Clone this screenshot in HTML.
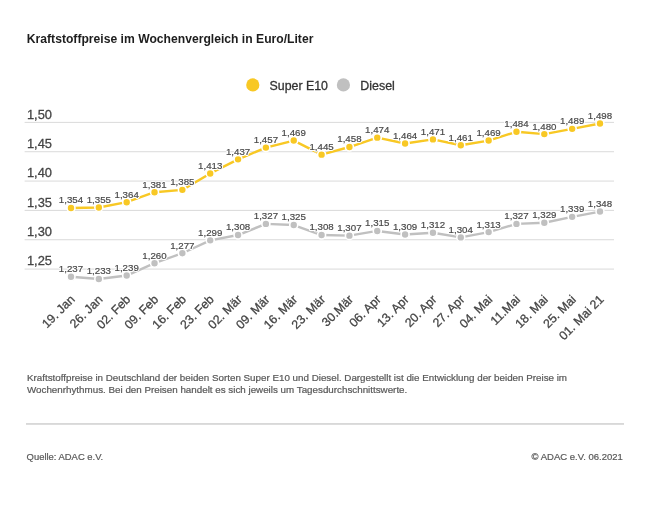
<!DOCTYPE html><html><head><meta charset="utf-8"><style>html,body{margin:0;padding:0;background:#fff;width:650px;height:517px;overflow:hidden}svg{display:block}text{font-family:"Liberation Sans", Arial, sans-serif}.t{fill:#444;stroke:#444;stroke-width:0.28px}.h{fill:#fff;stroke:#fff;stroke-width:2.2px;stroke-linejoin:round}.d{fill:#4a4a4a;stroke:#4a4a4a;stroke-width:0.2px}.c{fill:#5a5a5a;stroke:#5a5a5a;stroke-width:0.22px}</style></head><body>
<svg width="650" height="517" viewBox="0 0 650 517">
<rect width="650" height="517" fill="#fff"/>
<text x="26.8" y="43.1" font-size="12.10" font-weight="bold" fill="#1e1e1e" textLength="286.6" lengthAdjust="spacingAndGlyphs">Kraftstoffpreise im Wochenvergleich in Euro/Liter</text>
<circle cx="252.8" cy="84.9" r="6.6" fill="#f8c824"/>
<text class="t" x="269.6" y="89.5" font-size="12.0" style="fill:#333;stroke:#333" textLength="58.4" lengthAdjust="spacingAndGlyphs">Super E10</text>
<circle cx="343.4" cy="84.9" r="6.6" fill="#c0c0c0"/>
<text class="t" x="360.3" y="89.5" font-size="12.0" style="fill:#333;stroke:#333" textLength="34.6" lengthAdjust="spacingAndGlyphs">Diesel</text>
<rect x="24.6" y="121.88" width="589.4" height="1" fill="#dadada"/>
<text class="t" x="26.9" y="118.78" font-size="12.90">1,50</text>
<rect x="24.6" y="151.22" width="589.4" height="1" fill="#dadada"/>
<text class="t" x="26.9" y="148.12" font-size="12.90">1,45</text>
<rect x="24.6" y="180.56" width="589.4" height="1" fill="#dadada"/>
<text class="t" x="26.9" y="177.46" font-size="12.90">1,40</text>
<rect x="24.6" y="209.90" width="589.4" height="1" fill="#dadada"/>
<text class="t" x="26.9" y="206.80" font-size="12.90">1,35</text>
<rect x="24.6" y="239.24" width="589.4" height="1" fill="#dadada"/>
<text class="t" x="26.9" y="236.14" font-size="12.90">1,30</text>
<rect x="24.6" y="268.58" width="589.4" height="1" fill="#dadada"/>
<text class="t" x="26.9" y="265.48" font-size="12.90">1,25</text>
<polyline points="71.00,276.71 98.84,279.06 126.68,275.53 154.53,263.21 182.37,253.24 210.21,240.33 238.05,235.05 265.89,223.90 293.74,225.07 321.58,235.05 349.42,235.63 377.26,230.94 405.10,234.46 432.95,232.70 460.79,237.39 488.63,232.11 516.47,223.90 544.31,222.72 572.16,216.85 600.00,211.57" fill="none" stroke="#c0c0c0" stroke-width="2.40" stroke-linejoin="round" stroke-linecap="round"/>
<circle cx="71.00" cy="276.71" r="4.00" fill="#c0c0c0" stroke="#fff" stroke-width="1.60"/>
<circle cx="98.84" cy="279.06" r="4.00" fill="#c0c0c0" stroke="#fff" stroke-width="1.60"/>
<circle cx="126.68" cy="275.53" r="4.00" fill="#c0c0c0" stroke="#fff" stroke-width="1.60"/>
<circle cx="154.53" cy="263.21" r="4.00" fill="#c0c0c0" stroke="#fff" stroke-width="1.60"/>
<circle cx="182.37" cy="253.24" r="4.00" fill="#c0c0c0" stroke="#fff" stroke-width="1.60"/>
<circle cx="210.21" cy="240.33" r="4.00" fill="#c0c0c0" stroke="#fff" stroke-width="1.60"/>
<circle cx="238.05" cy="235.05" r="4.00" fill="#c0c0c0" stroke="#fff" stroke-width="1.60"/>
<circle cx="265.89" cy="223.90" r="4.00" fill="#c0c0c0" stroke="#fff" stroke-width="1.60"/>
<circle cx="293.74" cy="225.07" r="4.00" fill="#c0c0c0" stroke="#fff" stroke-width="1.60"/>
<circle cx="321.58" cy="235.05" r="4.00" fill="#c0c0c0" stroke="#fff" stroke-width="1.60"/>
<circle cx="349.42" cy="235.63" r="4.00" fill="#c0c0c0" stroke="#fff" stroke-width="1.60"/>
<circle cx="377.26" cy="230.94" r="4.00" fill="#c0c0c0" stroke="#fff" stroke-width="1.60"/>
<circle cx="405.10" cy="234.46" r="4.00" fill="#c0c0c0" stroke="#fff" stroke-width="1.60"/>
<circle cx="432.95" cy="232.70" r="4.00" fill="#c0c0c0" stroke="#fff" stroke-width="1.60"/>
<circle cx="460.79" cy="237.39" r="4.00" fill="#c0c0c0" stroke="#fff" stroke-width="1.60"/>
<circle cx="488.63" cy="232.11" r="4.00" fill="#c0c0c0" stroke="#fff" stroke-width="1.60"/>
<circle cx="516.47" cy="223.90" r="4.00" fill="#c0c0c0" stroke="#fff" stroke-width="1.60"/>
<circle cx="544.31" cy="222.72" r="4.00" fill="#c0c0c0" stroke="#fff" stroke-width="1.60"/>
<circle cx="572.16" cy="216.85" r="4.00" fill="#c0c0c0" stroke="#fff" stroke-width="1.60"/>
<circle cx="600.00" cy="211.57" r="4.00" fill="#c0c0c0" stroke="#fff" stroke-width="1.60"/>
<polyline points="71.00,208.05 98.84,207.47 126.68,202.18 154.53,192.21 182.37,189.86 210.21,173.43 238.05,159.35 265.89,147.61 293.74,140.57 321.58,154.65 349.42,147.03 377.26,137.64 405.10,143.50 432.95,139.40 460.79,145.27 488.63,140.57 516.47,131.77 544.31,134.12 572.16,128.83 600.00,123.55" fill="none" stroke="#f8c824" stroke-width="2.40" stroke-linejoin="round" stroke-linecap="round"/>
<circle cx="71.00" cy="208.05" r="4.00" fill="#f8c824" stroke="#fff" stroke-width="1.60"/>
<circle cx="98.84" cy="207.47" r="4.00" fill="#f8c824" stroke="#fff" stroke-width="1.60"/>
<circle cx="126.68" cy="202.18" r="4.00" fill="#f8c824" stroke="#fff" stroke-width="1.60"/>
<circle cx="154.53" cy="192.21" r="4.00" fill="#f8c824" stroke="#fff" stroke-width="1.60"/>
<circle cx="182.37" cy="189.86" r="4.00" fill="#f8c824" stroke="#fff" stroke-width="1.60"/>
<circle cx="210.21" cy="173.43" r="4.00" fill="#f8c824" stroke="#fff" stroke-width="1.60"/>
<circle cx="238.05" cy="159.35" r="4.00" fill="#f8c824" stroke="#fff" stroke-width="1.60"/>
<circle cx="265.89" cy="147.61" r="4.00" fill="#f8c824" stroke="#fff" stroke-width="1.60"/>
<circle cx="293.74" cy="140.57" r="4.00" fill="#f8c824" stroke="#fff" stroke-width="1.60"/>
<circle cx="321.58" cy="154.65" r="4.00" fill="#f8c824" stroke="#fff" stroke-width="1.60"/>
<circle cx="349.42" cy="147.03" r="4.00" fill="#f8c824" stroke="#fff" stroke-width="1.60"/>
<circle cx="377.26" cy="137.64" r="4.00" fill="#f8c824" stroke="#fff" stroke-width="1.60"/>
<circle cx="405.10" cy="143.50" r="4.00" fill="#f8c824" stroke="#fff" stroke-width="1.60"/>
<circle cx="432.95" cy="139.40" r="4.00" fill="#f8c824" stroke="#fff" stroke-width="1.60"/>
<circle cx="460.79" cy="145.27" r="4.00" fill="#f8c824" stroke="#fff" stroke-width="1.60"/>
<circle cx="488.63" cy="140.57" r="4.00" fill="#f8c824" stroke="#fff" stroke-width="1.60"/>
<circle cx="516.47" cy="131.77" r="4.00" fill="#f8c824" stroke="#fff" stroke-width="1.60"/>
<circle cx="544.31" cy="134.12" r="4.00" fill="#f8c824" stroke="#fff" stroke-width="1.60"/>
<circle cx="572.16" cy="128.83" r="4.00" fill="#f8c824" stroke="#fff" stroke-width="1.60"/>
<circle cx="600.00" cy="123.55" r="4.00" fill="#f8c824" stroke="#fff" stroke-width="1.60"/>
<text class="h" x="71.00" y="272.11" font-size="9.70" text-anchor="middle" textLength="24.3" lengthAdjust="spacingAndGlyphs">1,237</text>
<text class="h" x="98.84" y="274.46" font-size="9.70" text-anchor="middle" textLength="24.3" lengthAdjust="spacingAndGlyphs">1,233</text>
<text class="h" x="126.68" y="270.93" font-size="9.70" text-anchor="middle" textLength="24.3" lengthAdjust="spacingAndGlyphs">1,239</text>
<text class="h" x="154.53" y="258.61" font-size="9.70" text-anchor="middle" textLength="24.3" lengthAdjust="spacingAndGlyphs">1,260</text>
<text class="h" x="182.37" y="248.64" font-size="9.70" text-anchor="middle" textLength="24.3" lengthAdjust="spacingAndGlyphs">1,277</text>
<text class="h" x="210.21" y="235.73" font-size="9.70" text-anchor="middle" textLength="24.3" lengthAdjust="spacingAndGlyphs">1,299</text>
<text class="h" x="238.05" y="230.45" font-size="9.70" text-anchor="middle" textLength="24.3" lengthAdjust="spacingAndGlyphs">1,308</text>
<text class="h" x="265.89" y="219.30" font-size="9.70" text-anchor="middle" textLength="24.3" lengthAdjust="spacingAndGlyphs">1,327</text>
<text class="h" x="293.74" y="220.47" font-size="9.70" text-anchor="middle" textLength="24.3" lengthAdjust="spacingAndGlyphs">1,325</text>
<text class="h" x="321.58" y="230.45" font-size="9.70" text-anchor="middle" textLength="24.3" lengthAdjust="spacingAndGlyphs">1,308</text>
<text class="h" x="349.42" y="231.03" font-size="9.70" text-anchor="middle" textLength="24.3" lengthAdjust="spacingAndGlyphs">1,307</text>
<text class="h" x="377.26" y="226.34" font-size="9.70" text-anchor="middle" textLength="24.3" lengthAdjust="spacingAndGlyphs">1,315</text>
<text class="h" x="405.10" y="229.86" font-size="9.70" text-anchor="middle" textLength="24.3" lengthAdjust="spacingAndGlyphs">1,309</text>
<text class="h" x="432.95" y="228.10" font-size="9.70" text-anchor="middle" textLength="24.3" lengthAdjust="spacingAndGlyphs">1,312</text>
<text class="h" x="460.79" y="232.79" font-size="9.70" text-anchor="middle" textLength="24.3" lengthAdjust="spacingAndGlyphs">1,304</text>
<text class="h" x="488.63" y="227.51" font-size="9.70" text-anchor="middle" textLength="24.3" lengthAdjust="spacingAndGlyphs">1,313</text>
<text class="h" x="516.47" y="219.30" font-size="9.70" text-anchor="middle" textLength="24.3" lengthAdjust="spacingAndGlyphs">1,327</text>
<text class="h" x="544.31" y="218.12" font-size="9.70" text-anchor="middle" textLength="24.3" lengthAdjust="spacingAndGlyphs">1,329</text>
<text class="h" x="572.16" y="212.25" font-size="9.70" text-anchor="middle" textLength="24.3" lengthAdjust="spacingAndGlyphs">1,339</text>
<text class="h" x="600.00" y="206.97" font-size="9.70" text-anchor="middle" textLength="24.3" lengthAdjust="spacingAndGlyphs">1,348</text>
<text class="d" x="71.00" y="272.11" font-size="9.70" text-anchor="middle" textLength="24.3" lengthAdjust="spacingAndGlyphs">1,237</text>
<text class="d" x="98.84" y="274.46" font-size="9.70" text-anchor="middle" textLength="24.3" lengthAdjust="spacingAndGlyphs">1,233</text>
<text class="d" x="126.68" y="270.93" font-size="9.70" text-anchor="middle" textLength="24.3" lengthAdjust="spacingAndGlyphs">1,239</text>
<text class="d" x="154.53" y="258.61" font-size="9.70" text-anchor="middle" textLength="24.3" lengthAdjust="spacingAndGlyphs">1,260</text>
<text class="d" x="182.37" y="248.64" font-size="9.70" text-anchor="middle" textLength="24.3" lengthAdjust="spacingAndGlyphs">1,277</text>
<text class="d" x="210.21" y="235.73" font-size="9.70" text-anchor="middle" textLength="24.3" lengthAdjust="spacingAndGlyphs">1,299</text>
<text class="d" x="238.05" y="230.45" font-size="9.70" text-anchor="middle" textLength="24.3" lengthAdjust="spacingAndGlyphs">1,308</text>
<text class="d" x="265.89" y="219.30" font-size="9.70" text-anchor="middle" textLength="24.3" lengthAdjust="spacingAndGlyphs">1,327</text>
<text class="d" x="293.74" y="220.47" font-size="9.70" text-anchor="middle" textLength="24.3" lengthAdjust="spacingAndGlyphs">1,325</text>
<text class="d" x="321.58" y="230.45" font-size="9.70" text-anchor="middle" textLength="24.3" lengthAdjust="spacingAndGlyphs">1,308</text>
<text class="d" x="349.42" y="231.03" font-size="9.70" text-anchor="middle" textLength="24.3" lengthAdjust="spacingAndGlyphs">1,307</text>
<text class="d" x="377.26" y="226.34" font-size="9.70" text-anchor="middle" textLength="24.3" lengthAdjust="spacingAndGlyphs">1,315</text>
<text class="d" x="405.10" y="229.86" font-size="9.70" text-anchor="middle" textLength="24.3" lengthAdjust="spacingAndGlyphs">1,309</text>
<text class="d" x="432.95" y="228.10" font-size="9.70" text-anchor="middle" textLength="24.3" lengthAdjust="spacingAndGlyphs">1,312</text>
<text class="d" x="460.79" y="232.79" font-size="9.70" text-anchor="middle" textLength="24.3" lengthAdjust="spacingAndGlyphs">1,304</text>
<text class="d" x="488.63" y="227.51" font-size="9.70" text-anchor="middle" textLength="24.3" lengthAdjust="spacingAndGlyphs">1,313</text>
<text class="d" x="516.47" y="219.30" font-size="9.70" text-anchor="middle" textLength="24.3" lengthAdjust="spacingAndGlyphs">1,327</text>
<text class="d" x="544.31" y="218.12" font-size="9.70" text-anchor="middle" textLength="24.3" lengthAdjust="spacingAndGlyphs">1,329</text>
<text class="d" x="572.16" y="212.25" font-size="9.70" text-anchor="middle" textLength="24.3" lengthAdjust="spacingAndGlyphs">1,339</text>
<text class="d" x="600.00" y="206.97" font-size="9.70" text-anchor="middle" textLength="24.3" lengthAdjust="spacingAndGlyphs">1,348</text>
<text class="h" x="71.00" y="203.45" font-size="9.70" text-anchor="middle" textLength="24.3" lengthAdjust="spacingAndGlyphs">1,354</text>
<text class="h" x="98.84" y="202.87" font-size="9.70" text-anchor="middle" textLength="24.3" lengthAdjust="spacingAndGlyphs">1,355</text>
<text class="h" x="126.68" y="197.58" font-size="9.70" text-anchor="middle" textLength="24.3" lengthAdjust="spacingAndGlyphs">1,364</text>
<text class="h" x="154.53" y="187.61" font-size="9.70" text-anchor="middle" textLength="24.3" lengthAdjust="spacingAndGlyphs">1,381</text>
<text class="h" x="182.37" y="185.26" font-size="9.70" text-anchor="middle" textLength="24.3" lengthAdjust="spacingAndGlyphs">1,385</text>
<text class="h" x="210.21" y="168.83" font-size="9.70" text-anchor="middle" textLength="24.3" lengthAdjust="spacingAndGlyphs">1,413</text>
<text class="h" x="238.05" y="154.75" font-size="9.70" text-anchor="middle" textLength="24.3" lengthAdjust="spacingAndGlyphs">1,437</text>
<text class="h" x="265.89" y="143.01" font-size="9.70" text-anchor="middle" textLength="24.3" lengthAdjust="spacingAndGlyphs">1,457</text>
<text class="h" x="293.74" y="135.97" font-size="9.70" text-anchor="middle" textLength="24.3" lengthAdjust="spacingAndGlyphs">1,469</text>
<text class="h" x="321.58" y="150.05" font-size="9.70" text-anchor="middle" textLength="24.3" lengthAdjust="spacingAndGlyphs">1,445</text>
<text class="h" x="349.42" y="142.43" font-size="9.70" text-anchor="middle" textLength="24.3" lengthAdjust="spacingAndGlyphs">1,458</text>
<text class="h" x="377.26" y="133.04" font-size="9.70" text-anchor="middle" textLength="24.3" lengthAdjust="spacingAndGlyphs">1,474</text>
<text class="h" x="405.10" y="138.90" font-size="9.70" text-anchor="middle" textLength="24.3" lengthAdjust="spacingAndGlyphs">1,464</text>
<text class="h" x="432.95" y="134.80" font-size="9.70" text-anchor="middle" textLength="24.3" lengthAdjust="spacingAndGlyphs">1,471</text>
<text class="h" x="460.79" y="140.67" font-size="9.70" text-anchor="middle" textLength="24.3" lengthAdjust="spacingAndGlyphs">1,461</text>
<text class="h" x="488.63" y="135.97" font-size="9.70" text-anchor="middle" textLength="24.3" lengthAdjust="spacingAndGlyphs">1,469</text>
<text class="h" x="516.47" y="127.17" font-size="9.70" text-anchor="middle" textLength="24.3" lengthAdjust="spacingAndGlyphs">1,484</text>
<text class="h" x="544.31" y="129.52" font-size="9.70" text-anchor="middle" textLength="24.3" lengthAdjust="spacingAndGlyphs">1,480</text>
<text class="h" x="572.16" y="124.23" font-size="9.70" text-anchor="middle" textLength="24.3" lengthAdjust="spacingAndGlyphs">1,489</text>
<text class="h" x="600.00" y="118.95" font-size="9.70" text-anchor="middle" textLength="24.3" lengthAdjust="spacingAndGlyphs">1,498</text>
<text class="d" x="71.00" y="203.45" font-size="9.70" text-anchor="middle" textLength="24.3" lengthAdjust="spacingAndGlyphs">1,354</text>
<text class="d" x="98.84" y="202.87" font-size="9.70" text-anchor="middle" textLength="24.3" lengthAdjust="spacingAndGlyphs">1,355</text>
<text class="d" x="126.68" y="197.58" font-size="9.70" text-anchor="middle" textLength="24.3" lengthAdjust="spacingAndGlyphs">1,364</text>
<text class="d" x="154.53" y="187.61" font-size="9.70" text-anchor="middle" textLength="24.3" lengthAdjust="spacingAndGlyphs">1,381</text>
<text class="d" x="182.37" y="185.26" font-size="9.70" text-anchor="middle" textLength="24.3" lengthAdjust="spacingAndGlyphs">1,385</text>
<text class="d" x="210.21" y="168.83" font-size="9.70" text-anchor="middle" textLength="24.3" lengthAdjust="spacingAndGlyphs">1,413</text>
<text class="d" x="238.05" y="154.75" font-size="9.70" text-anchor="middle" textLength="24.3" lengthAdjust="spacingAndGlyphs">1,437</text>
<text class="d" x="265.89" y="143.01" font-size="9.70" text-anchor="middle" textLength="24.3" lengthAdjust="spacingAndGlyphs">1,457</text>
<text class="d" x="293.74" y="135.97" font-size="9.70" text-anchor="middle" textLength="24.3" lengthAdjust="spacingAndGlyphs">1,469</text>
<text class="d" x="321.58" y="150.05" font-size="9.70" text-anchor="middle" textLength="24.3" lengthAdjust="spacingAndGlyphs">1,445</text>
<text class="d" x="349.42" y="142.43" font-size="9.70" text-anchor="middle" textLength="24.3" lengthAdjust="spacingAndGlyphs">1,458</text>
<text class="d" x="377.26" y="133.04" font-size="9.70" text-anchor="middle" textLength="24.3" lengthAdjust="spacingAndGlyphs">1,474</text>
<text class="d" x="405.10" y="138.90" font-size="9.70" text-anchor="middle" textLength="24.3" lengthAdjust="spacingAndGlyphs">1,464</text>
<text class="d" x="432.95" y="134.80" font-size="9.70" text-anchor="middle" textLength="24.3" lengthAdjust="spacingAndGlyphs">1,471</text>
<text class="d" x="460.79" y="140.67" font-size="9.70" text-anchor="middle" textLength="24.3" lengthAdjust="spacingAndGlyphs">1,461</text>
<text class="d" x="488.63" y="135.97" font-size="9.70" text-anchor="middle" textLength="24.3" lengthAdjust="spacingAndGlyphs">1,469</text>
<text class="d" x="516.47" y="127.17" font-size="9.70" text-anchor="middle" textLength="24.3" lengthAdjust="spacingAndGlyphs">1,484</text>
<text class="d" x="544.31" y="129.52" font-size="9.70" text-anchor="middle" textLength="24.3" lengthAdjust="spacingAndGlyphs">1,480</text>
<text class="d" x="572.16" y="124.23" font-size="9.70" text-anchor="middle" textLength="24.3" lengthAdjust="spacingAndGlyphs">1,489</text>
<text class="d" x="600.00" y="118.95" font-size="9.70" text-anchor="middle" textLength="24.3" lengthAdjust="spacingAndGlyphs">1,498</text>
<text class="t" x="75.50" y="300.20" font-size="12.3" text-anchor="end" transform="rotate(-45 75.50 300.20)">19. Jan</text>
<text class="t" x="103.34" y="300.20" font-size="12.3" text-anchor="end" transform="rotate(-45 103.34 300.20)">26. Jan</text>
<text class="t" x="131.18" y="300.20" font-size="12.3" text-anchor="end" transform="rotate(-45 131.18 300.20)">02. Feb</text>
<text class="t" x="159.03" y="300.20" font-size="12.3" text-anchor="end" transform="rotate(-45 159.03 300.20)">09. Feb</text>
<text class="t" x="186.87" y="300.20" font-size="12.3" text-anchor="end" transform="rotate(-45 186.87 300.20)">16. Feb</text>
<text class="t" x="214.71" y="300.20" font-size="12.3" text-anchor="end" transform="rotate(-45 214.71 300.20)">23. Feb</text>
<text class="t" x="242.55" y="300.20" font-size="12.3" text-anchor="end" transform="rotate(-45 242.55 300.20)">02. Mär</text>
<text class="t" x="270.39" y="300.20" font-size="12.3" text-anchor="end" transform="rotate(-45 270.39 300.20)">09. Mär</text>
<text class="t" x="298.24" y="300.20" font-size="12.3" text-anchor="end" transform="rotate(-45 298.24 300.20)">16. Mär</text>
<text class="t" x="326.08" y="300.20" font-size="12.3" text-anchor="end" transform="rotate(-45 326.08 300.20)">23. Mär</text>
<text class="t" x="353.92" y="300.20" font-size="12.3" text-anchor="end" transform="rotate(-45 353.92 300.20)">30.Mär</text>
<text class="t" x="381.76" y="300.20" font-size="12.3" text-anchor="end" transform="rotate(-45 381.76 300.20)">06. Apr</text>
<text class="t" x="409.60" y="300.20" font-size="12.3" text-anchor="end" transform="rotate(-45 409.60 300.20)">13. Apr</text>
<text class="t" x="437.45" y="300.20" font-size="12.3" text-anchor="end" transform="rotate(-45 437.45 300.20)">20. Apr</text>
<text class="t" x="465.29" y="300.20" font-size="12.3" text-anchor="end" transform="rotate(-45 465.29 300.20)">27. Apr</text>
<text class="t" x="493.13" y="300.20" font-size="12.3" text-anchor="end" transform="rotate(-45 493.13 300.20)">04. Mai</text>
<text class="t" x="520.97" y="300.20" font-size="12.3" text-anchor="end" transform="rotate(-45 520.97 300.20)">11.Mai</text>
<text class="t" x="548.81" y="300.20" font-size="12.3" text-anchor="end" transform="rotate(-45 548.81 300.20)">18. Mai</text>
<text class="t" x="576.66" y="300.20" font-size="12.3" text-anchor="end" transform="rotate(-45 576.66 300.20)">25. Mai</text>
<text class="t" x="604.50" y="300.20" font-size="12.3" text-anchor="end" transform="rotate(-45 604.50 300.20)">01. Mai 21</text>
<text class="c" x="27" y="380.9" font-size="9.80">Kraftstoffpreise in Deutschland der beiden Sorten Super E10 und Diesel. Dargestellt ist die Entwicklung der beiden Preise im</text>
<text class="c" x="27" y="393.1" font-size="9.80">Wochenrhythmus. Bei den Preisen handelt es sich jeweils um Tagesdurchschnittswerte.</text>
<rect x="26" y="423.2" width="598" height="1.5" fill="#cfcfcf"/>
<text class="c" x="26.6" y="460.1" font-size="9.80" textLength="76.6" lengthAdjust="spacingAndGlyphs">Quelle: ADAC e.V.</text>
<text class="c" x="531.6" y="460.1" font-size="9.80" textLength="91.3" lengthAdjust="spacingAndGlyphs">© ADAC e.V. 06.2021</text>
</svg></body></html>
